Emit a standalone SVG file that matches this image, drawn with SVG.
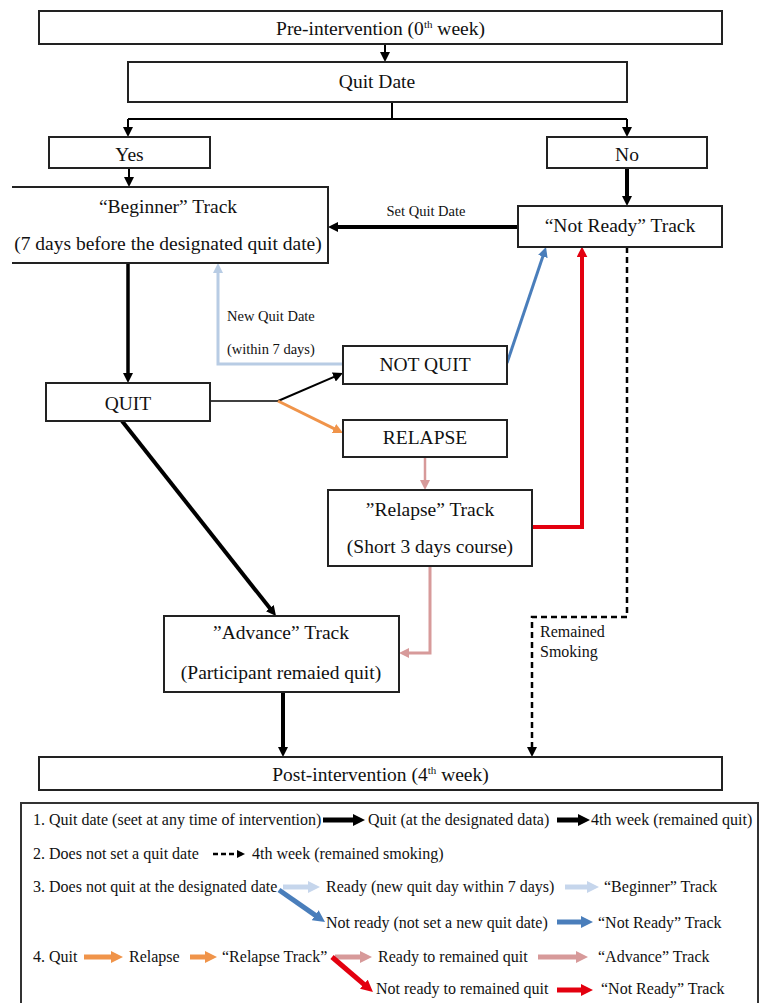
<svg xmlns="http://www.w3.org/2000/svg" width="760" height="1003" viewBox="0 0 760 1003">
<style>
.box{fill:#fff;stroke:#222;stroke-width:2}
.t{font-family:"Liberation Serif","Times New Roman",serif;font-size:19.5px;fill:#111;text-anchor:middle}
.sm{font-family:"Liberation Serif","Times New Roman",serif;font-size:14.5px;fill:#111}
.lg{font-family:"Liberation Serif","Times New Roman",serif;font-size:16px;fill:#111}
.c{fill:none;stroke-linecap:butt;stroke-linejoin:miter}
.k{stroke:#000}
.lb{stroke:#b8cce4}
.bl{stroke:#4a7ebb}
.rd{stroke:#e3000f}
.pk{stroke:#d79a9a}
.or{stroke:#f0944a}
</style>
<defs>
<marker id="mk" viewBox="0 0 10 10" refX="4" refY="5" markerWidth="10" markerHeight="10" markerUnits="userSpaceOnUse" orient="auto"><path d="M0,0 L10,5 L0,10 z" fill="#000"/></marker>
<marker id="mlb" viewBox="0 0 10 10" refX="4" refY="5" markerWidth="10" markerHeight="10" markerUnits="userSpaceOnUse" orient="auto"><path d="M0,0 L10,5 L0,10 z" fill="#b8cce4"/></marker>
<marker id="mbl" viewBox="0 0 10 10" refX="4" refY="5" markerWidth="10" markerHeight="10" markerUnits="userSpaceOnUse" orient="auto"><path d="M0,0 L10,5 L0,10 z" fill="#4a7ebb"/></marker>
<marker id="mrd" viewBox="0 0 10 10" refX="4" refY="5" markerWidth="11" markerHeight="11" markerUnits="userSpaceOnUse" orient="auto"><path d="M0,0 L10,5 L0,10 z" fill="#e3000f"/></marker>
<marker id="mpk" viewBox="0 0 10 10" refX="4" refY="5" markerWidth="10" markerHeight="10" markerUnits="userSpaceOnUse" orient="auto"><path d="M0,0 L10,5 L0,10 z" fill="#d79a9a"/></marker>
<marker id="mor" viewBox="0 0 10 10" refX="4" refY="5" markerWidth="10" markerHeight="10" markerUnits="userSpaceOnUse" orient="auto"><path d="M0,0 L10,5 L0,10 z" fill="#f0944a"/></marker>
<marker id="ms" viewBox="0 0 10 10" refX="10" refY="5" markerWidth="8" markerHeight="8" markerUnits="userSpaceOnUse" orient="auto"><path d="M0,0 L10,5 L0,10 z" fill="#000"/></marker>
<marker id="Lk" viewBox="0 0 12 12" refX="6" refY="6" markerWidth="12" markerHeight="12" markerUnits="userSpaceOnUse" orient="auto"><path d="M0,0 L12,6 L0,12 z" fill="#000"/></marker>
<marker id="Llb" viewBox="0 0 12 12" refX="6" refY="6" markerWidth="12" markerHeight="12" markerUnits="userSpaceOnUse" orient="auto"><path d="M0,0 L12,6 L0,12 z" fill="#c6d6ec"/></marker>
<marker id="Lbl" viewBox="0 0 12 12" refX="6" refY="6" markerWidth="12" markerHeight="12" markerUnits="userSpaceOnUse" orient="auto"><path d="M0,0 L12,6 L0,12 z" fill="#4a7ebb"/></marker>
<marker id="Lrd" viewBox="0 0 12 12" refX="6" refY="6" markerWidth="12" markerHeight="12" markerUnits="userSpaceOnUse" orient="auto"><path d="M0,0 L12,6 L0,12 z" fill="#e3000f"/></marker>
<marker id="Lpk" viewBox="0 0 12 12" refX="6" refY="6" markerWidth="12" markerHeight="12" markerUnits="userSpaceOnUse" orient="auto"><path d="M0,0 L12,6 L0,12 z" fill="#d79a9a"/></marker>
<marker id="Lor" viewBox="0 0 12 12" refX="6" refY="6" markerWidth="12" markerHeight="12" markerUnits="userSpaceOnUse" orient="auto"><path d="M0,0 L12,6 L0,12 z" fill="#f0944a"/></marker>
</defs>
<rect width="760" height="1003" fill="#fff"/>

<g id="connectors">
<path class="c k" stroke-width="2" d="M385,44 V56" marker-end="url(#mk)"/>
<path class="c k" stroke-width="2" d="M392,102 V119 M128,119 H627"/>
<path class="c k" stroke-width="2" d="M128,119 V131" marker-end="url(#mk)"/>
<path class="c k" stroke-width="2" d="M627,119 V131" marker-end="url(#mk)"/>
<path class="c k" stroke-width="2" d="M129,168 V181" marker-end="url(#mk)"/>
<path class="c k" stroke-width="4" d="M627,167 V200" marker-end="url(#mk)"/>
<path class="c k" stroke-width="4" d="M518,227 H334" marker-end="url(#mk)"/>
<path class="c k" stroke-width="3.5" d="M128,263 V377" marker-end="url(#mk)"/>
<path class="c lb" stroke-width="3" d="M343,364 H218 V269" marker-end="url(#mlb)"/>
<path class="c k" stroke-width="1.5" d="M210,401 H278"/>
<path class="c k" stroke-width="2" d="M278,401 L337.5,375.4" marker-end="url(#mk)"/>
<path class="c or" stroke-width="3" d="M278,401 L337.6,430.3" marker-end="url(#mor)"/>
<path class="c bl" stroke-width="3" d="M507,363 L544.1,252.7" marker-end="url(#mbl)"/>
<path class="c rd" stroke-width="4" d="M532,527 H582 V253" marker-end="url(#mrd)"/>
<path class="c pk" stroke-width="2.5" d="M425,457 V484" marker-end="url(#mpk)"/>
<path class="c pk" stroke-width="3" d="M430,566 V653 H405" marker-end="url(#mpk)"/>
<path class="c k" stroke-width="2.5" stroke-dasharray="6 4" d="M627,247 V617 H532 V751" marker-end="url(#mk)"/>
<path class="c k" stroke-width="4" d="M122,421 L272.3,611.3" marker-end="url(#mk)"/>
<path class="c k" stroke-width="4" d="M283,692 V751" marker-end="url(#mk)"/>
<text class="sm" x="426" y="216" text-anchor="middle">Set Quit Date</text>
<text class="sm" x="227" y="321">New Quit Date</text>
<text class="sm" x="227" y="354">(within 7 days)</text>
<text class="lg" x="540" y="637">Remained</text>
<text class="lg" x="540" y="657">Smoking</text>
</g>

<g id="pre"><rect class="box" x="39" y="11" width="683" height="33"/><text class="t" x="380.5" y="35">Pre-intervention (0<tspan font-size="11" dy="-7">th</tspan><tspan dy="7"> week)</tspan></text></g>
<g id="quitdate"><rect class="box" x="128" y="62" width="499" height="40"/><text class="t" x="377" y="88">Quit Date</text></g>
<g id="yes"><rect class="box" x="49" y="137" width="161" height="31"/><text class="t" x="129.5" y="161">Yes</text></g>
<g id="no"><rect class="box" x="547" y="137" width="160" height="31"/><text class="t" x="627" y="161">No</text></g>
<g id="beginner"><rect x="12" y="187" width="316" height="76" fill="#fff"/><path d="M12,187 H328 V263 H12" fill="none" stroke="#222" stroke-width="2"/><text class="t" x="168" y="213">“Beginner” Track</text><text class="t" x="168" y="250">(7 days before the designated quit date)</text></g>
<g id="notready"><rect class="box" x="518" y="206" width="204" height="41"/><text class="t" x="620" y="232">“Not Ready” Track</text></g>
<g id="notquit"><rect class="box" x="343" y="346" width="164" height="38"/><text class="t" x="425" y="371">NOT QUIT</text></g>
<g id="quit"><rect class="box" x="46" y="383" width="164" height="38"/><text class="t" x="128" y="410">QUIT</text></g>
<g id="relapse"><rect class="box" x="343" y="420" width="164" height="37"/><text class="t" x="425" y="444">RELAPSE</text></g>
<g id="relapsetrack"><rect class="box" x="328" y="490" width="204" height="76"/><text class="t" x="430" y="516">”Relapse” Track</text><text class="t" x="430" y="553">(Short 3 days course)</text></g>
<g id="advance"><rect class="box" x="164" y="616" width="235" height="76"/><text class="t" x="281" y="639">”Advance” Track</text><text class="t" x="281" y="679">(Participant remaied quit)</text></g>
<g id="post"><rect class="box" x="39" y="757" width="683" height="33"/><text class="t" x="380.5" y="781">Post-intervention (4<tspan font-size="11" dy="-7">th</tspan><tspan dy="7"> week)</tspan></text></g>

<g id="legend">
<rect x="21" y="803" width="737" height="215" fill="none" stroke="#333" stroke-width="2"/>
<text class="lg" x="33" y="825">1. Quit date (seet at any time of intervention)</text>
<path class="c k" stroke-width="5" d="M323,820 H359" marker-end="url(#Lk)"/>
<text class="lg" x="368" y="825">Quit (at the designated data)</text>
<path class="c k" stroke-width="5" d="M557,820 H584" marker-end="url(#Lk)"/>
<text class="lg" x="591" y="825">4th week (remained quit)</text>
<text class="lg" x="33" y="859">2. Does not set a quit date</text>
<path class="c k" stroke-width="2.5" stroke-dasharray="5 3" d="M213,854 H245" marker-end="url(#ms)"/>
<text class="lg" x="252" y="859">4th week (remained smoking)</text>
<text class="lg" x="33" y="892">3. Does not quit at the designated date</text>
<path class="c" stroke="#c6d6ec" stroke-width="5" d="M283,887 H314" marker-end="url(#Llb)"/>
<text class="lg" x="326" y="892">Ready (new quit day within 7 days)</text>
<path class="c" stroke="#c6d6ec" stroke-width="5" d="M565,887 H593" marker-end="url(#Llb)"/>
<text class="lg" x="604" y="892">“Beginner” Track</text>
<path class="c bl" stroke-width="5" d="M279,890 L320.1,918.6" marker-end="url(#Lbl)"/>
<text class="lg" x="326" y="928">Not ready (not set a new quit date)</text>
<path class="c bl" stroke-width="5" d="M557,922 H587" marker-end="url(#Lbl)"/>
<text class="lg" x="598" y="928">“Not Ready” Track</text>
<text class="lg" x="33" y="962">4. Quit</text>
<path class="c or" stroke-width="5" d="M84,957 H117" marker-end="url(#Lor)"/>
<text class="lg" x="129" y="962">Relapse</text>
<path class="c or" stroke-width="5" d="M190,957 H211" marker-end="url(#Lor)"/>
<text class="lg" x="222" y="962">“Relapse Track”</text>
<path class="c pk" stroke-width="5" d="M335,957 H366" marker-end="url(#Lpk)"/>
<text class="lg" x="378" y="962">Ready to remained quit</text>
<path class="c pk" stroke-width="5" d="M538,957 H582" marker-end="url(#Lpk)"/>
<text class="lg" x="598" y="962">“Advance” Track</text>
<path class="c rd" stroke-width="5" d="M332,957 L368.4,988.1" marker-end="url(#Lrd)"/>
<text class="lg" x="376" y="994">Not ready to remained quit</text>
<path class="c rd" stroke-width="5" d="M557,990 H587" marker-end="url(#Lrd)"/>
<text class="lg" x="601" y="994">“Not Ready” Track</text>
</g>
</svg>
